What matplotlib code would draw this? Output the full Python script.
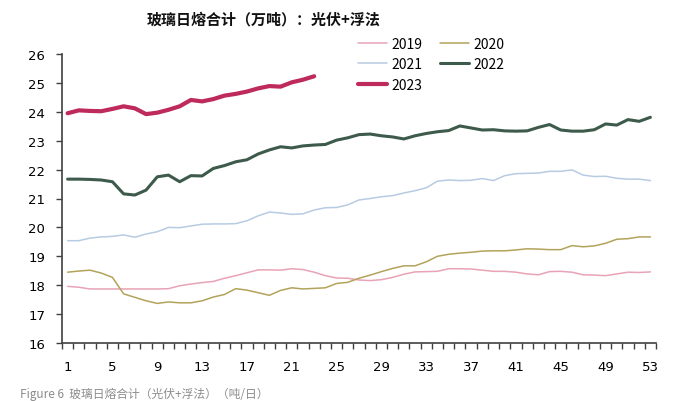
import matplotlib
matplotlib.use("Agg")
import matplotlib.pyplot as plt
from matplotlib.ticker import FixedLocator, NullFormatter

plt.rcParams['font.family'] = ['Liberation Sans Narrow', 'Noto Sans CJK SC', 'DejaVu Sans']

weeks = list(range(1, 54))

y2019 = [17.96, 17.93, 17.87, 17.87, 17.87, 17.87, 17.87, 17.87, 17.87, 17.88,
         17.98, 18.04, 18.09, 18.13, 18.24, 18.33, 18.43, 18.53, 18.53, 18.52,
         18.57, 18.54, 18.45, 18.33, 18.25, 18.24, 18.18, 18.16, 18.19, 18.27,
         18.38, 18.46, 18.47, 18.48, 18.57, 18.57, 18.56, 18.52, 18.48, 18.48,
         18.45, 18.39, 18.36, 18.47, 18.48, 18.45, 18.36, 18.35, 18.33, 18.39,
         18.45, 18.44, 18.46]

y2020 = [18.45, 18.49, 18.52, 18.42, 18.27, 17.70, 17.58, 17.46, 17.37, 17.42,
         17.39, 17.39, 17.46, 17.59, 17.68, 17.88, 17.83, 17.74, 17.65, 17.82,
         17.91, 17.87, 17.89, 17.91, 18.06, 18.10, 18.24, 18.35, 18.47, 18.58,
         18.67, 18.67, 18.81, 19.00, 19.07, 19.11, 19.14, 19.18, 19.19, 19.19,
         19.22, 19.26, 19.25, 19.23, 19.23, 19.37, 19.33, 19.36, 19.45, 19.59,
         19.61, 19.67, 19.67]

y2021 = [19.54, 19.54, 19.63, 19.67, 19.69, 19.74, 19.66, 19.77, 19.85, 20.00,
         19.99, 20.05, 20.11, 20.12, 20.12, 20.13, 20.23, 20.40, 20.53, 20.50,
         20.45, 20.47, 20.60, 20.68, 20.69, 20.78, 20.95, 21.00, 21.06, 21.10,
         21.19, 21.27, 21.37, 21.60, 21.64, 21.62, 21.63, 21.69, 21.62, 21.79,
         21.86, 21.87, 21.88, 21.94, 21.94, 21.99, 21.81, 21.76, 21.77, 21.70,
         21.67, 21.67, 21.62]

y2022 = [21.67, 21.67, 21.66, 21.64, 21.58, 21.16, 21.12, 21.29, 21.75, 21.81,
         21.58, 21.79, 21.78, 22.04, 22.14, 22.27, 22.34, 22.54, 22.68, 22.79,
         22.75, 22.82, 22.85, 22.87, 23.02, 23.10, 23.21, 23.23, 23.17, 23.13,
         23.06, 23.17, 23.25, 23.31, 23.35, 23.51, 23.44, 23.37, 23.38, 23.34,
         23.33, 23.34, 23.46, 23.56, 23.37, 23.33, 23.33, 23.38, 23.58, 23.54,
         23.73, 23.67, 23.81]

y2023 = [23.95, 24.05, 24.03, 24.02, 24.10, 24.19, 24.12, 23.92, 23.97, 24.07,
         24.19, 24.41, 24.36, 24.44, 24.56, 24.62, 24.70, 24.81, 24.89, 24.87,
         25.02, 25.11, 25.23]

series = [
    ("2019", y2019, "#E8A3B6", 1.1),
    ("2020", y2020, "#B3A35A", 1.1),
    ("2021", y2021, "#B7CBE2", 1.1),
    ("2022", y2022, "#3D5A4B", 2.2),
    ("2023", y2023, "#BE2A5C", 3.0),
]

xtick_labels = [str(w) for w in range(1, 54, 4)]

W, H = 690, 402
fig = plt.figure(figsize=(W / 100, H / 100), dpi=100)
ax = fig.add_axes([62 / W, 1 - 344 / H, (656 - 62) / W, (344 - 55) / H])

lines = {}
for name, vals, color, lw in series:
    ln, = ax.plot(weeks[:len(vals)], vals, color=color, lw=lw, label=name,
                  solid_capstyle='round', solid_joinstyle='round')
    lines[name] = ln

ax.set_xlim(0.5, 53.5)
ax.set_ylim(16, 26)
ax.set_yticks(range(16, 27))
ax.set_xticks(range(1, 54, 4))
ax.set_xticklabels(xtick_labels)
ax.xaxis.set_minor_locator(FixedLocator([i + 0.5 for i in range(0, 54)]))
ax.xaxis.set_minor_formatter(NullFormatter())

for s in ['top', 'right']:
    ax.spines[s].set_visible(False)
for s in ['left', 'bottom']:
    ax.spines[s].set_color('#404040')
    ax.spines[s].set_linewidth(1.2)

ax.tick_params(axis='x', which='major', length=0, pad=12, labelsize=9.5,
               labelcolor='black')
ax.tick_params(axis='x', which='minor', length=4, width=1.0, color='#404040',
               direction='out')
ax.tick_params(axis='y', which='major', length=4, width=1.0, color='#404040',
               pad=8, labelsize=9.5, labelcolor='black')
for lab in ax.get_xticklabels() + ax.get_yticklabels():
    lab.set_family(['DejaVu Sans'])

fig.text(264 / W, 1 - 19 / H, "玻璃日熔合计（万吨）：光伏+浮法",
         ha='center', va='center', fontsize=10.8, fontweight='bold',
         family=['Noto Sans CJK SC', 'DejaVu Sans'], color='#111111')

order = ["2019", "2021", "2023", "2020", "2022"]
leg = fig.legend([lines[k] for k in order], order,
                 loc='upper left', bbox_to_anchor=(358 / W, 1 - 38 / H),
                 ncol=2, frameon=False, fontsize=10, handlelength=2.1,
                 handletextpad=0.3, columnspacing=1.25, labelspacing=0.45,
                 borderpad=0, borderaxespad=0)

fig.text(20 / W, 1 - 401 / H, "Figure 6  玻璃日熔合计（光伏+浮法）（吨/日）",
         ha='left', va='bottom', fontsize=8.5, style='italic', color='#8C8C8C',
         family=['Noto Sans CJK SC', 'DejaVu Sans'])

fig.savefig("out.png", dpi=100)
